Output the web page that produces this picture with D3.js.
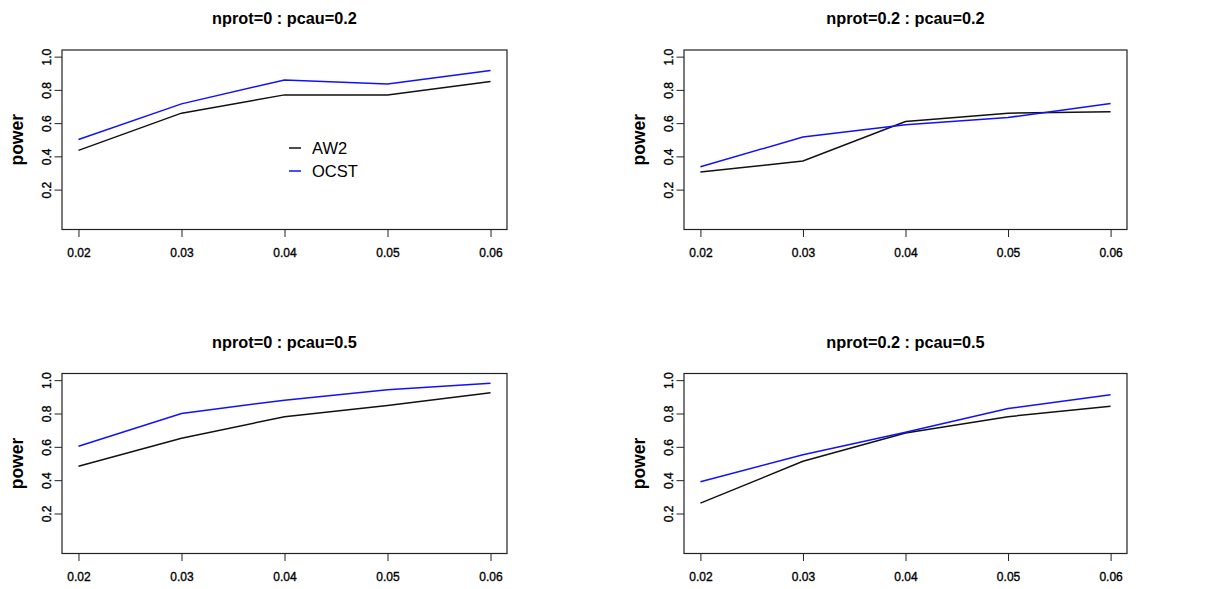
<!DOCTYPE html>
<html>
<head>
<meta charset="utf-8">
<script src="https://cdn.jsdelivr.net/npm/d3@7"></script>
<style>
  body { margin: 0; background: #fff; }
  text { font-family: "Liberation Sans", Arial, Helvetica, sans-serif; fill: #000; }
</style>
</head>
<body>
<script>
const width = 1232;
const height = 589;

// data
const xValues = [0.02, 0.03, 0.04, 0.05, 0.06];
const yTicks = [0.2, 0.4, 0.6, 0.8, 1.0];
const panelTitles = [
  "nprot=0 : pcau=0.2",
  "nprot=0.2 : pcau=0.2",
  "nprot=0 : pcau=0.5",
  "nprot=0.2 : pcau=0.5",
];
const aw2Values = [
  [0.436, 0.66, 0.77, 0.77, 0.85],
  [0.306, 0.372, 0.61, 0.66, 0.668],
  [0.483, 0.651, 0.781, 0.848, 0.924],
  [0.262, 0.513, 0.683, 0.781, 0.844],
];
const ocstValues = [
  [0.502, 0.716, 0.86, 0.836, 0.916],
  [0.338, 0.516, 0.59, 0.634, 0.718],
  [0.603, 0.8, 0.88, 0.942, 0.982],
  [0.39, 0.553, 0.687, 0.83, 0.912],
];
const seriesNames = ["AW2", "OCST"];
const seriesColors = ["#111", "#1010ff"];

// plot boxes (left/right columns, top/bottom rows)
const cols = [[62, 507], [684, 1127]];
const rows = [[50, 229.5], [373.5, 553.5]];

const svg = d3
  .select("body")
  .append("svg")
  .attr("width", width)
  .attr("height", height)
  .attr("viewBox", [0, 0, width, height]);

// R pads the range by 4% on each side
const xPad = (0.06 - 0.02) * 0.04;
const yPad = (1 - 0) * 0.04;

function styleTicks(sel) {
  sel
    .attr("font-size", 12)
    .attr("font-family", "Liberation Sans, Arial, sans-serif")
    .attr("fill", "#000")
    .attr("stroke", "#000")
    .attr("stroke-width", 0.35);
}

panelTitles.forEach((title, i) => {
  const [x0, x1] = cols[i % 2];
  const [y0, y1] = rows[Math.floor(i / 2)];

  const x = d3.scaleLinear().domain([0.02 - xPad, 0.06 + xPad]).range([x0, x1]);
  const y = d3.scaleLinear().domain([0 - yPad, 1 + yPad]).range([y1, y0]);

  const g = svg.append("g");

  // x axis
  const xAxis = g
    .append("g")
    .attr("transform", `translate(0,${y1})`)
    .call(
      d3.axisBottom(x)
        .tickValues(xValues)
        .tickSize(7.5)
        .tickPadding(11.5)
        .tickFormat(d3.format(".2f"))
    );
  xAxis.select(".domain").remove();
  xAxis.selectAll("line").attr("stroke", "#222");
  styleTicks(xAxis.selectAll("text"));

  // y axis with rotated labels
  const yAxis = g
    .append("g")
    .attr("transform", `translate(${x0},0)`)
    .call(
      d3.axisLeft(y)
        .tickValues(yTicks)
        .tickSize(7.5)
        .tickFormat(d3.format(".1f"))
    );
  yAxis.select(".domain").remove();
  yAxis.selectAll("line").attr("stroke", "#222");
  yAxis.selectAll("text")
    .attr("x", 0)
    .attr("dy", "0.35em")
    .attr("text-anchor", "middle")
    .attr("transform", "translate(-15,0) rotate(-90)");
  styleTicks(yAxis.selectAll("text"));

  // y label
  g.append("text")
    .attr("transform", `translate(${x0 - 45},${(y0 + y1) / 2}) rotate(-90)`)
    .attr("dy", "0.35em")
    .attr("text-anchor", "middle")
    .attr("font-size", 17.5)
    .attr("font-weight", "bold")
    .text("power");

  // title
  g.append("text")
    .attr("x", (x0 + x1) / 2)
    .attr("y", y0 - 26)
    .attr("text-anchor", "middle")
    .attr("font-size", 16.3)
    .attr("font-weight", "bold")
    .text(title);

  // lines
  const line = d3.line()
    .x((d, j) => x(xValues[j]))
    .y((d) => y(d));

  [aw2Values[i], ocstValues[i]].forEach((vals, s) => {
    g.append("path")
      .datum(vals)
      .attr("fill", "none")
      .attr("stroke", seriesColors[s])
      .attr("stroke-width", 1.5)
      .attr("d", line);
  });

  // box
  g.append("rect")
    .attr("x", x0)
    .attr("y", y0)
    .attr("width", x1 - x0)
    .attr("height", y1 - y0)
    .attr("fill", "none")
    .attr("stroke", "#222")
    .attr("stroke-width", 1.2);

  // legend in first panel
  if (i === 0) {
    const legend = g.append("g").attr("transform", "translate(289,148)");
    seriesNames.forEach((name, s) => {
      const row = legend.append("g").attr("transform", `translate(0,${s * 23})`);
      row.append("line")
        .attr("x1", 0)
        .attr("x2", 12)
        .attr("stroke", seriesColors[s])
        .attr("stroke-width", 1.5);
      row.append("text")
        .attr("x", 23)
        .attr("dy", "0.36em")
        .attr("font-size", 16.5)
        .text(name);
    });
  }
});
</script>
</body>
</html>
